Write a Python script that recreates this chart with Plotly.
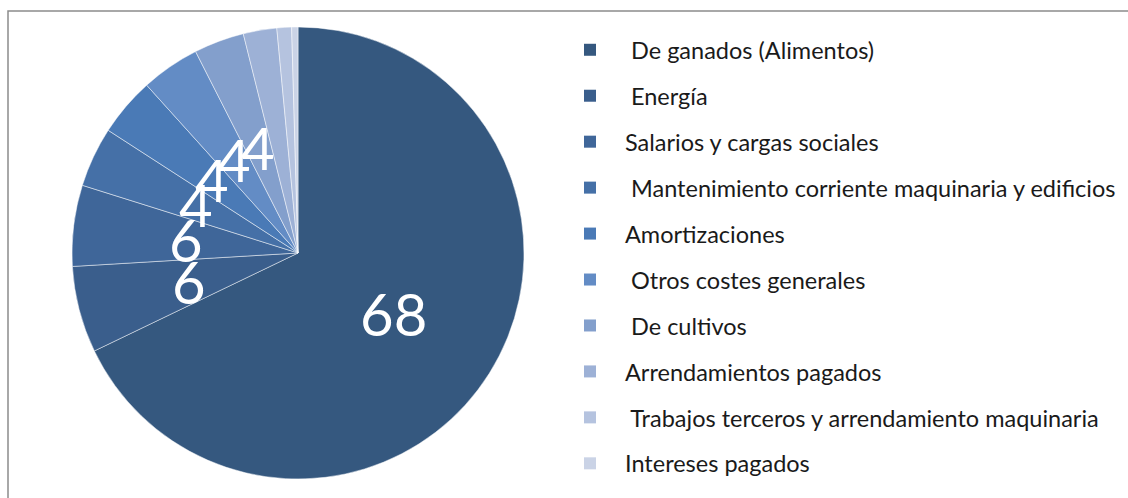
import math
import plotly.graph_objects as go

W, H = 1128, 498

categories = [
    "\u00a0De ganados (Alimentos)",
    "\u00a0Energía",
    "Salarios y cargas sociales",
    "\u00a0Mantenimiento corriente maquinaria y edificios",
    "Amortizaciones",
    "\u00a0Otros costes generales",
    "\u00a0De cultivos",
    "Arrendamientos pagados",
    "\u00a0Trabajos terceros y arrendamiento maquinaria",
    "Intereses pagados",
]
values = [68, 6.2, 5.8, 4.3, 4.2, 4.2, 3.6, 2.4, 1.05, 0.45]
shown_labels = ["68", "6", "6", "4", "4", "4", "4", "", "", ""]
colors = ["#35587F", "#3A5E8C", "#3F6699", "#4570A7", "#4A7AB6",
          "#638CC5", "#839FCC", "#9DB1D6", "#B5C3DF", "#CAD3E6"]

FONT = "Lato"

# pie geometry (pixels)
cx, cy, R = 298, 253, 226
dom_x = [(cx - R) / W, (cx + R) / W]
dom_y = [(H - cy - R) / H, (H - cy + R) / H]

fig = go.Figure()
fig.add_trace(go.Pie(
    labels=categories, values=values, sort=False, direction="clockwise",
    rotation=0, textinfo="none", hoverinfo="label+value",
    marker=dict(colors=colors, line=dict(color="rgba(255,255,255,0.6)", width=0.8)),
    domain=dict(x=dom_x, y=dom_y), showlegend=False,
))

# legend entries as square markers
for i, (c, col) in enumerate(zip(categories, colors)):
    fig.add_trace(go.Scatter(
        x=[None], y=[None], mode="markers", name=c,
        marker=dict(symbol="square", size=12, color=col),
        legendgroup=f"g{i}", showlegend=True,
    ))

# data labels at half radius along mid-angle of each slice
total = sum(values)
cum = 0.0
annotations = []
for v, lab in zip(values, shown_labels):
    mid = (cum + v / 2) / total * 2 * math.pi
    cum += v
    if not lab:
        continue
    px = cx + 0.5 * R * math.sin(mid)
    py = cy - 0.5 * R * math.cos(mid)
    annotations.append(dict(
        x=px / W, y=(H - py) / H, xref="paper", yref="paper",
        text=lab, showarrow=False, xanchor="center", yanchor="middle",
        font=dict(family=FONT, size=58, color="white"),
    ))

fig.update_layout(
    width=W, height=H,
    margin=dict(l=0, r=0, t=0, b=0),
    paper_bgcolor="white", plot_bgcolor="white",
    xaxis=dict(visible=False), yaxis=dict(visible=False),
    font=dict(family=FONT, size=23.5, color="#1a1a1a"),
    legend=dict(
        x=555 / W, y=1 - 28 / H, xanchor="left", yanchor="top",
        tracegroupgap=12.4, itemwidth=60, traceorder="grouped",
        font=dict(family=FONT, size=23.5, color="#1a1a1a"),
        bgcolor="rgba(0,0,0,0)",
    ),
    annotations=annotations,
    shapes=[dict(
        type="rect", xref="paper", yref="paper",
        x0=8 / W, y0=-0.05, x1=1.05, y1=1 - 11 / H,
        line=dict(color="#8c8c8c", width=1.5), fillcolor="rgba(0,0,0,0)",
        layer="below",
    )],
    hovermode=False,
)

fig.write_html("out.html", config={"displayModeBar": False},
               post_script="document.body.style.margin='0';")
